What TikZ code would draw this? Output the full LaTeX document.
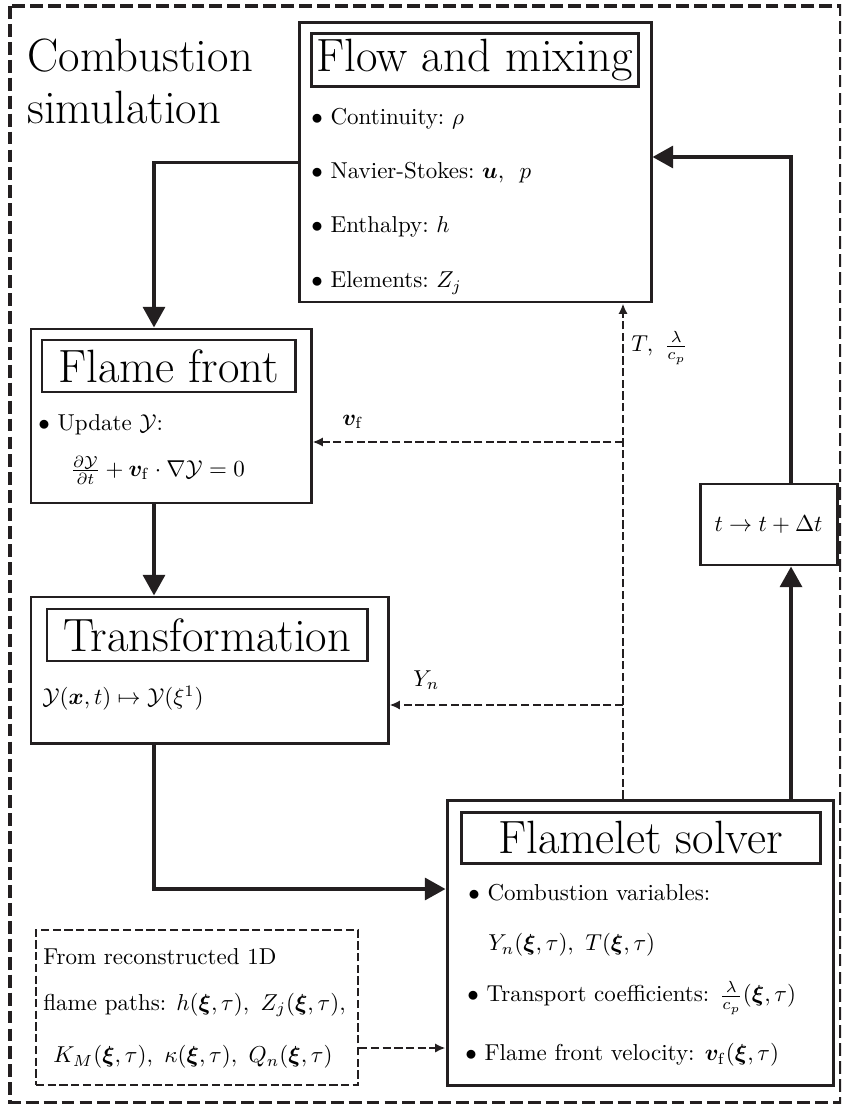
\documentclass[tikz,border=0pt]{standalone}
\usepackage{amsmath}
\usepackage{bm}
\usetikzlibrary{arrows.meta}
\definecolor{ink}{RGB}{35,31,32}
\newcommand{\unitpx}{0.4348pt}
\newcommand{\titlefont}{\fontsize{20.3}{22.6}\selectfont}

\begin{document}
\begin{tikzpicture}[x=0.4348pt,y=-0.4348pt,
    sized/.style 2 args={minimum width=#1*\unitpx,minimum height=#2*\unitpx},
    box/.style={draw=ink,line width=1.3pt,inner sep=0pt},
    titlebox/.style={draw=ink,line width=1.3pt,inner sep=0pt,font=\titlefont},
    txt/.style={anchor=west,inner sep=0pt},
    datadash/.style={dash pattern=on 3.6pt off 1.5pt},
    flowarrow/.style={draw=ink,line width=1.7pt,-{Triangle[length=9pt,width=9.5pt]}},
    dataarrow/.style={draw=ink,line width=0.9pt,datadash,-{Latex[length=4.5pt,width=4pt]}}]
    \useasboundingbox (0,0) rectangle (841,1104);
    \clip (0,0) rectangle (841,1104);
    % outer frame
    \draw[ink,line width=1.4pt,dash pattern=on 5.6pt off 2.2pt] (10,6) rectangle (840.5,1102.5);
    \node[txt,font=\titlefont,align=left] (heading) at (27,81) {Combustion\\simulation};
    % flow and mixing
    \node[box,sized={352}{279}] (flow) at (475,162.5) {};
    \node[titlebox,sized={327}{53}] (flowtitle) at (474.5,60.5) {Flow and mixing};
    \node[txt] (continuity) at (311,119) {$\bullet$ Continuity:\ $\rho$};
    \node[txt] (momentum) at (311,173) {$\bullet$ Navier-Stokes:\ $\bm{u}$,\ \ $p$};
    \node[txt] (enthalpy) at (311,227) {$\bullet$ Enthalpy:\ $h$};
    \node[txt] (elements) at (311,283) {$\bullet$ Elements:\ $Z_j$};
    % flame front
    \node[box,sized={280}{174}] (flame) at (171,416) {};
    \node[titlebox,sized={253}{52}] (flametitle) at (168.5,366) {Flame front};
    \node[txt] (update) at (38,425) {$\bullet$ Update $\mathcal{Y}$:};
    \node[txt] (levelset) at (70,470) {$\frac{\partial\mathcal{Y}}{\partial t}+\bm{v}_\mathrm{f}\cdot\nabla\mathcal{Y}=0$};
    % transformation
    \node[box,sized={357}{146}] (trans) at (209.5,670) {};
    \node[titlebox,sized={320}{52}] (transtitle) at (207,635) {Transformation};
    \node[txt] (mapping) at (42,698) {$\mathcal{Y}(\bm{x},t)\mapsto\mathcal{Y}(\xi^1)$};
    % flamelet solver
    \node[box,sized={386}{285}] (flamelet) at (640,942.5) {};
    \node[titlebox,sized={359}{51}] (flamelettitle) at (640.5,837.5) {Flamelet solver};
    \node[txt] (combvar) at (468,893) {$\bullet$ Combustion variables:};
    \node[txt] (combvals) at (488,945) {$Y_n(\bm{\xi},\tau),\ T(\bm{\xi},\tau)$};
    \node[txt] (transport) at (467,998) {$\bullet$ Transport coefficients: $\frac{\lambda}{c_p}(\bm{\xi},\tau)$};
    \node[txt] (velocity) at (465,1055) {$\bullet$ Flame front velocity: $\bm{v}_\mathrm{f}(\bm{\xi},\tau)$};
    % time step
    \node[box,sized={137}{81}] (tstep) at (768.5,524.5) {$t\rightarrow t+\Delta t$};
    % reconstructed flame paths
    \node[draw=ink,line width=0.9pt,datadash,inner sep=0pt,sized={322}{155}] (paths) at (197,1007.5) {};
    \node[txt] (paths1) at (43,957) {From\ reconstructed\ 1D};
    \node[txt] (paths2) at (43,1005) {flame paths: $h(\bm{\xi},\tau),\ Z_j(\bm{\xi},\tau),$};
    \node[txt] (paths3) at (53,1057) {$K_M(\bm{\xi},\tau),\ \kappa(\bm{\xi},\tau),\ Q_n(\bm{\xi},\tau)$};
    % connector lanes
    \coordinate (lane) at (154,889);
    \coordinate (loop) at (791,157);
    \coordinate (vfin) at (623,442);
    \coordinate (ynin) at (623,705);
    \coordinate (pathsrow) at (0,1048);
    % main loop
    \draw[flowarrow] (flow.west) -| (lane |- flame.north);
    \draw[flowarrow] (lane |- flame.south) -- (lane |- trans.north);
    \draw[flowarrow] (lane |- trans.south) -- (lane) -- (lane -| flamelet.west);
    \draw[flowarrow] (loop |- flamelet.north) -- (loop |- tstep.south);
    \draw[flowarrow] (loop |- tstep.north) -- (loop) -- (loop -| flow.east);
    % data exchange
    \draw[dataarrow] (vfin |- flamelet.north) -- (vfin |- flow.south);
    \draw[dataarrow] (vfin) -- (vfin -| flame.east);
    \draw[dataarrow] (ynin) -- (ynin -| trans.east);
    \draw[dataarrow] (paths.east |- pathsrow) -- (flamelet.west |- pathsrow);
    \node[txt] (vflabel) at (342,422) {$\bm{v}_\mathrm{f}$};
    \node[txt] (ynlabel) at (413,680) {$Y_n$};
    \node[txt] (tlabel) at (631,348) {$T,\ \frac{\lambda}{c_p}$};
\end{tikzpicture}
\end{document}
